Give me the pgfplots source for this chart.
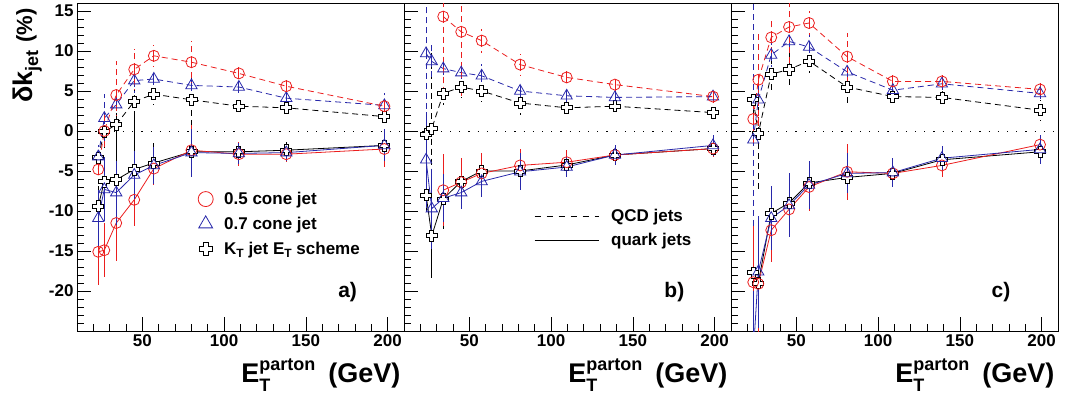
\documentclass[border=0pt]{standalone}
\usepackage{fontspec}
\setmainfont{Liberation Sans}
\usepackage{pgfplots}
\pgfplotsset{compat=1.18}
\definecolor{myred}{RGB}{235,30,30}
\definecolor{myblue}{RGB}{40,40,170}

\pgfdeclareplotmark{ocross}{%
  \pgfpathmoveto{\pgfqpoint{-0.36\pgfplotmarksize}{\pgfplotmarksize}}%
  \pgfpathlineto{\pgfqpoint{0.36\pgfplotmarksize}{\pgfplotmarksize}}%
  \pgfpathlineto{\pgfqpoint{0.36\pgfplotmarksize}{0.36\pgfplotmarksize}}%
  \pgfpathlineto{\pgfqpoint{\pgfplotmarksize}{0.36\pgfplotmarksize}}%
  \pgfpathlineto{\pgfqpoint{\pgfplotmarksize}{-0.36\pgfplotmarksize}}%
  \pgfpathlineto{\pgfqpoint{0.36\pgfplotmarksize}{-0.36\pgfplotmarksize}}%
  \pgfpathlineto{\pgfqpoint{0.36\pgfplotmarksize}{-\pgfplotmarksize}}%
  \pgfpathlineto{\pgfqpoint{-0.36\pgfplotmarksize}{-\pgfplotmarksize}}%
  \pgfpathlineto{\pgfqpoint{-0.36\pgfplotmarksize}{-0.36\pgfplotmarksize}}%
  \pgfpathlineto{\pgfqpoint{-\pgfplotmarksize}{-0.36\pgfplotmarksize}}%
  \pgfpathlineto{\pgfqpoint{-\pgfplotmarksize}{0.36\pgfplotmarksize}}%
  \pgfpathlineto{\pgfqpoint{-0.36\pgfplotmarksize}{0.36\pgfplotmarksize}}%
  \pgfpathclose
  \pgfusepathqfillstroke}

\newcommand\xlab{\bfseries\fontsize{27}{27}\selectfont E\rlap{\raisebox{-9pt}{\fontsize{18}{18}\selectfont T}}\raisebox{12pt}{\fontsize{18}{18}\selectfont parton}\hspace{13pt}(GeV)}

\pgfplotsset{
  rootaxis/.style={
    scale only axis, width=327pt, height=328pt,
    xmin=10, xmax=210, ymin=-25, ymax=16,
    xtick={50,100,150,200}, xticklabels={50,100,150,200},
    minor xtick={20,30,...,200},
    ytick={-20,-15,...,15}, minor ytick={-24,-23,...,15},
    tick align=inside, xtick pos=bottom, ytick pos=left,
    major tick length=14pt, minor tick length=7pt,
    every tick/.style={black, line width=0.8pt},
    every minor tick/.style={black, line width=0.8pt},
    axis line style={line width=0.8pt},
    tick label style={font=\bfseries\fontsize{17}{17}\selectfont},
    xlabel={\xlab},
    xlabel style={at={(rel axis cs:1,-0.1585)}, anchor=base east},
    clip=true,
  },
  qcd/.style={line width=0.8pt, dash pattern=on 6pt off 4pt, forget plot,
    error bars/y dir=both, error bars/y explicit, error bars/error mark=none,
    error bars/error bar style={line width=0.8pt, dash pattern=on 6pt off 4pt}},
  quark/.style={line width=0.8pt, solid, forget plot,
    error bars/y dir=both, error bars/y explicit, error bars/error mark=none,
    error bars/error bar style={line width=0.8pt, solid}},
  rc/.style={color=myred, mark=o, mark size=5.5pt, mark options={solid, line width=0.8pt}},
  bt/.style={color=myblue, mark=triangle, mark size=6.5pt, mark options={solid, line width=0.8pt}},
  kc/.style={color=black, mark=ocross, mark size=5.5pt, mark options={solid, fill=white, line width=0.8pt}},
  zline/.style={forget plot, black, line width=0.7pt, dash pattern=on 1.2pt off 8pt},
}

\begin{document}
\begin{tikzpicture}
\useasboundingbox (-77pt,-66pt) rectangle (989pt,331pt);

% ---------------- panel a ----------------
\begin{axis}[rootaxis, at={(0pt,0pt)}, anchor=south west,
  yticklabels={-20,-15,-10,-5,0,5,10,15},
  ylabel={\bfseries\fontsize{27}{27}\selectfont δk\raisebox{-6pt}{\fontsize{18}{18}\selectfont jet}\ {\fontsize{22}{22}\selectfont(\%)}},
  ylabel style={at={(rel axis cs:-0.1376,0.994)}, anchor=base east},
  legend style={at={(rel axis cs:0.37,0.43)}, anchor=north west, draw=none, fill=none,
    font=\bfseries\fontsize{17}{17}\selectfont, row sep=7pt, column sep=9pt, inner sep=0pt},
  legend cell align=left,
  legend image code/.code={\draw[#1] plot coordinates {(7pt,0pt)};},
]
\addplot[zline] coordinates {(10,0) (210,0)};
% QCD
\addplot[qcd,kc] table[row sep=\\, x index=0, y index=1, y error index=2] {
23 -3.3 1.5\\ 26.7 -0.1 2.0\\ 34 0.8 1.5\\ 45 3.7 1.5\\ 57 4.6 1.3\\ 80 3.9 3.3\\ 109 3.1 1.0\\ 138 2.9 1.0\\ 198 1.8 1.0\\};
\addplot[qcd,bt] table[row sep=\\, x index=0, y index=1, y error index=2] {
23 -3.2 1.5\\ 26.7 1.6 3.0\\ 34 3.3 1.5\\ 45 6.3 1.5\\ 57 6.5 1.2\\ 80 5.7 1.0\\ 109 5.5 1.0\\ 138 4.1 0.8\\ 198 3.2 1.5\\};
\addplot[qcd,rc] table[row sep=\\, x index=0, y index=1, y error index=2] {
23 -4.8 1.5\\ 26.7 0.0 2.0\\ 34 4.5 4.3\\ 45 7.7 2.6\\ 57 9.4 1.4\\ 80 8.6 2.6\\ 109 7.2 1.2\\ 138 5.6 1.0\\ 198 3.1 1.0\\};
% quark
\addplot[quark,kc] table[row sep=\\, x index=0, y index=1, y error index=2] {
23 -9.4 2.5\\ 26.7 -6.3 3.0\\ 34 -6.1 8.0\\ 45 -4.8 7.0\\ 57 -4.0 2.5\\ 80 -2.6 3.2\\ 109 -2.6 1.0\\ 138 -2.4 1.0\\ 198 -1.8 1.5\\};
\addplot[quark,rc] table[row sep=\\, x index=0, y index=1, y error index=2] {
23 -15.1 4.2\\ 26.7 -14.9 3.4\\ 34 -11.5 4.8\\ 45 -8.6 3.3\\ 57 -4.7 2.0\\ 80 -2.4 3.2\\ 109 -2.9 1.5\\ 138 -2.9 1.0\\ 198 -2.25 2.2\\};
\addplot[quark,bt] table[row sep=\\, x index=0, y index=1, y error index=2] {
23 -10.9 3.5\\ 26.7 -7.3 4.0\\ 34 -7.7 4.0\\ 45 -5.5 3.0\\ 57 -4.3 2.3\\ 80 -2.7 3.0\\ 109 -2.8 1.3\\ 138 -2.7 1.0\\ 198 -1.8 2.0\\};
\addlegendimage{myred, mark=o, mark size=7.5pt, line width=0.8pt}
\addlegendentry{0.5 cone jet}
\addlegendimage{myblue, mark=triangle, mark size=8pt, line width=0.8pt}
\addlegendentry{0.7 cone jet}
\addlegendimage{black, mark=ocross, mark size=6.5pt, line width=0.8pt, mark options={fill=white}}
\addlegendentry{K\raisebox{-3pt}{\fontsize{12}{12}\selectfont T} jet E\raisebox{-3pt}{\fontsize{12}{12}\selectfont T} scheme}
\node[anchor=east, font=\bfseries\fontsize{21}{21}\selectfont] at (rel axis cs:0.867,0.119) {a)};
\end{axis}

% ---------------- panel b ----------------
\begin{axis}[rootaxis, at={(327pt,0pt)}, anchor=south west,
  yticklabels={},
  legend style={at={(rel axis cs:0.398,0.378)}, anchor=north west, draw=none, fill=none,
    font=\bfseries\fontsize{17}{17}\selectfont, row sep=6pt, column sep=10pt, inner sep=0pt},
  legend cell align=left,
  legend image code/.code={\draw[#1] (0pt,0pt) -- (64pt,0pt);},
]
\addplot[zline] coordinates {(10,0) (210,0)};
\addplot[qcd,kc] table[row sep=\\, x index=0, y index=1, y error index=2] {
23.5 -0.4 1.5\\ 27 0.3 9.5\\ 34 4.7 1.5\\ 45 5.5 1.3\\ 57.5 5.0 1.3\\ 81 3.5 1.5\\ 109.5 2.9 1.0\\ 139 3.1 1.0\\ 199 2.3 1.0\\};
\addplot[qcd,bt] table[row sep=\\, x index=0, y index=1, y error index=2] {
23.5 9.7 10.0\\ 27 8.7 2.0\\ 34 7.8 1.5\\ 45 7.3 1.3\\ 57.5 6.9 1.5\\ 81 5.0 1.0\\ 109.5 4.4 0.8\\ 139 4.2 0.8\\ 199 4.3 0.8\\};
\addplot[qcd,rc] table[row sep=\\, x index=0, y index=1, y error index=2] {
34 14.3 9.5\\ 45 12.4 8.0\\ 57.5 11.3 1.5\\ 81 8.3 1.3\\ 109.5 6.7 1.0\\ 139 5.8 0.8\\ 199 4.3 0.8\\};
\addplot[quark,kc] table[row sep=\\, x index=0, y index=1, y error index=2] {
23.5 -8.0 2.0\\ 27 -13.1 5.3\\ 34 -8.5 3.8\\ 45 -6.3 2.5\\ 57.5 -5.0 2.0\\ 81 -5.0 2.0\\ 109.5 -4.25 1.0\\ 139 -3.0 1.0\\ 199 -2.2 1.0\\};
\addplot[quark,rc] table[row sep=\\, x index=0, y index=1, y error index=2] {
34 -7.4 4.5\\ 45 -6.4 3.0\\ 57.5 -5.3 2.5\\ 81 -4.3 2.0\\ 109.5 -3.9 1.5\\ 139 -3.0 1.0\\ 199 -2.2 1.0\\};
\addplot[quark,bt] table[row sep=\\, x index=0, y index=1, y error index=2] {
23.5 -3.6 6.0\\ 27 -9.7 5.0\\ 34 -8.4 3.0\\ 45 -7.7 2.0\\ 57.5 -6.3 2.0\\ 81 -5.1 2.3\\ 109.5 -4.5 1.2\\ 139 -3.0 1.3\\ 199 -1.8 1.3\\};
\addlegendimage{black, line width=0.8pt, dash pattern=on 6pt off 6pt}
\addlegendentry{QCD jets}
\addlegendimage{black, line width=0.8pt}
\addlegendentry{quark jets}
\node[anchor=east, font=\bfseries\fontsize{21}{21}\selectfont] at (rel axis cs:0.868,0.119) {b)};
\end{axis}

% ---------------- panel c ----------------
\begin{axis}[rootaxis, at={(654pt,0pt)}, anchor=south west,
  yticklabels={},
]
\addplot[zline] coordinates {(10,0) (210,0)};
\addplot[qcd,kc] table[row sep=\\, x index=0, y index=1, y error index=2] {
23.6 3.9 7.0\\ 26.7 -0.3 7.0\\ 34.6 7.1 2.5\\ 45.5 7.7 2.3\\ 57.7 8.75 1.5\\ 81 5.5 2.0\\ 109 4.3 1.0\\ 139 4.2 1.0\\ 199 2.6 1.3\\};
\addplot[qcd,bt] table[row sep=\\, x index=0, y index=1, y error index=2] {
23.6 -1.1 24.0\\ 26.7 3.9 2.0\\ 34.6 9.5 1.5\\ 45.5 11.2 1.5\\ 57.7 10.5 1.5\\ 81 7.4 1.2\\ 109 5.1 1.0\\ 139 5.9 0.8\\ 199 4.7 1.2\\};
\addplot[qcd,rc] table[row sep=\\, x index=0, y index=1, y error index=2] {
23.6 1.5 3.0\\ 26.7 6.4 6.0\\ 34.6 11.7 2.0\\ 45.5 13.0 5.0\\ 57.7 13.5 1.5\\ 81 9.3 3.0\\ 109 6.2 1.0\\ 139 6.2 1.2\\ 199 5.2 1.0\\};
\addplot[quark,kc] table[row sep=\\, x index=0, y index=1, y error index=2] {
23.6 -17.7 3.0\\ 26.7 -19.0 3.0\\ 34.6 -10.3 3.0\\ 45.5 -9.0 3.0\\ 57.7 -6.5 2.0\\ 81 -5.8 1.5\\ 109 -5.3 1.0\\ 139 -3.6 1.0\\ 199 -2.6 1.0\\};
\addplot[quark,rc] table[row sep=\\, x index=0, y index=1, y error index=2] {
23.6 -18.9 7.0\\ 26.7 -19.1 6.0\\ 34.6 -12.4 4.0\\ 45.5 -9.8 3.5\\ 57.7 -7.0 3.0\\ 81 -5.1 3.5\\ 109 -5.3 1.5\\ 139 -4.3 1.5\\ 199 -1.7 1.0\\};
\addplot[quark,bt] table[row sep=\\, x index=0, y index=1, y error index=2] {
23.6 -28 8.0\\ 26.7 -17.6 7.0\\ 34.6 -10.9 4.0\\ 45.5 -9.3 4.0\\ 57.7 -6.75 3.0\\ 81 -5.3 2.5\\ 109 -5.2 1.8\\ 139 -3.4 1.5\\ 199 -2.3 1.8\\};
\node[anchor=east, font=\bfseries\fontsize{21}{21}\selectfont] at (rel axis cs:0.865,0.119) {c)};
\end{axis}
\end{tikzpicture}
\end{document}
